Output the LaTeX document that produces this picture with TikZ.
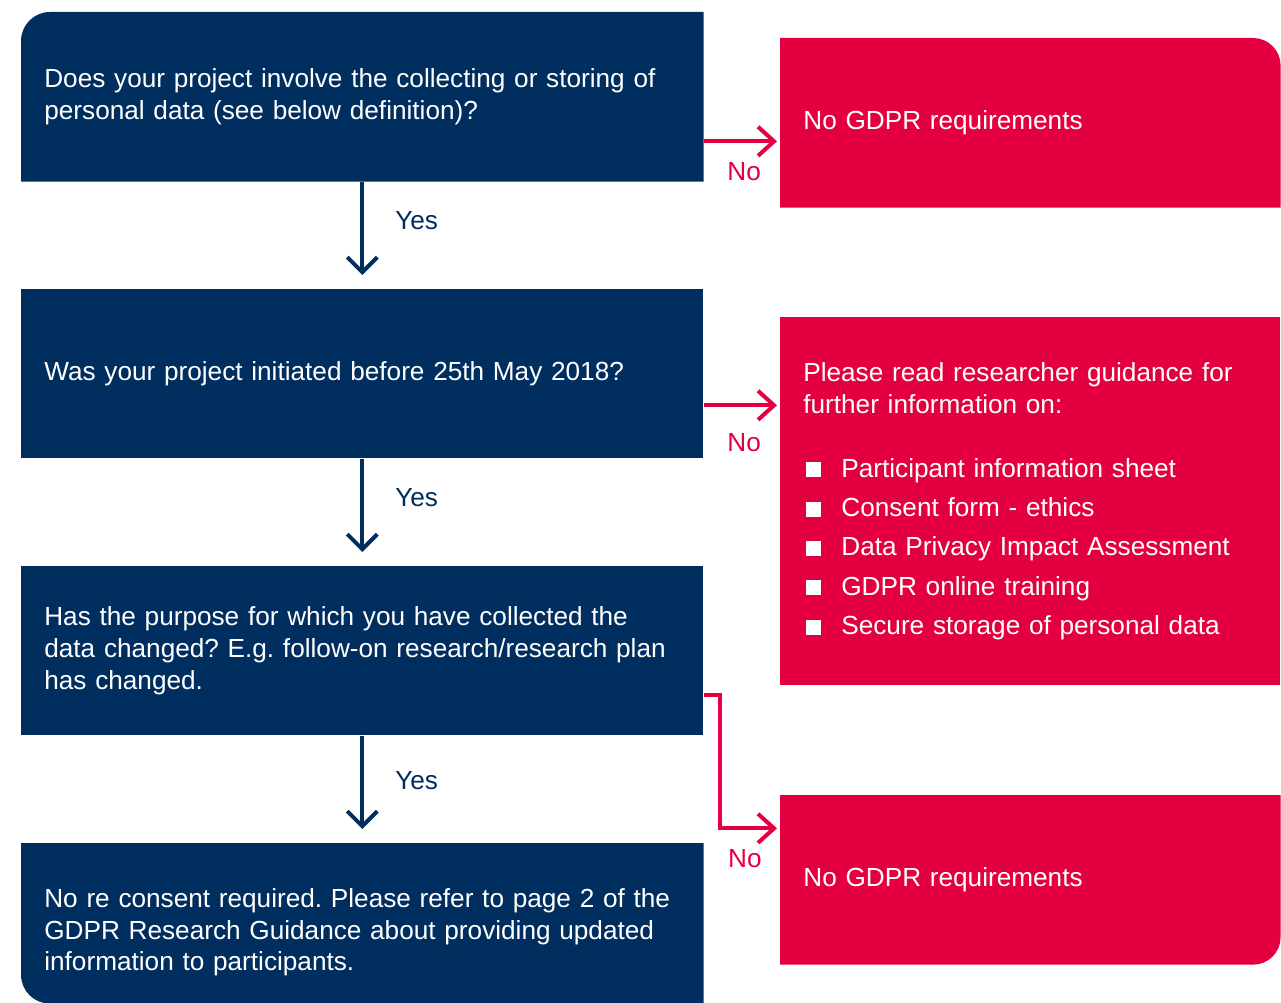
\documentclass[tikz,border=0pt]{standalone}
\usepackage{fontspec}
\setmainfont{Liberation Sans}
\usetikzlibrary{arrows.meta,backgrounds}

\definecolor{navy}{RGB}{0,46,94}
\definecolor{crimson}{RGB}{228,0,64}

% square bullet for the list in the red box
\newcommand{\sqbul}{\makebox[0.76cm][l]{\hspace{0.06cm}\rule{0.3cm}{0.3cm}}}

\tikzset{
  qbox/.style={anchor=north west, minimum width=13.64cm, minimum height=3.38cm,
    text width=12.72cm, inner xsep=0.46cm, inner ysep=0pt,
    align=left, text=white, font=\fontsize{14.9pt}{18.1pt}\selectfont},
  abox/.style={qbox, minimum width=10cm, text width=9.08cm},
  yesarrow/.style={draw=navy, line width=0.08cm, shorten >=0.28cm,
    -{Straight Barb[length=0.3cm,width=0.6cm]}},
  noarrow/.style={draw=crimson, line width=0.08cm, shorten >=0.06cm,
    -{Straight Barb[length=0.32cm,width=0.58cm]}},
  lbl/.style={inner sep=0pt, font=\fontsize{14.9pt}{18.1pt}\selectfont}
}

\begin{document}
\frenchspacing
\begin{tikzpicture}[x=0.02cm, y=-0.02cm]
  \useasboundingbox (0,0) rectangle (1281,1003);

  % questions
  \node[qbox] (q1) at (21,12) {Does your project involve the collecting or storing of\\personal data (see below definition)?};
  \node[qbox, fill=navy] (q2) at (21,289) {Was your project initiated before 25th May 2018?};
  \node[qbox, fill=navy] (q3) at (21,566) {Has the purpose for which you have collected the\\data changed? E.g. follow-on research/research plan\\has changed.};
  \node[qbox, minimum height=3.2cm] (q4) at (21,843) {\rule{0pt}{21pt}No re consent required. Please refer to page 2 of the\\GDPR Research Guidance about providing updated\\information to participants.};

  % answers
  \node[abox] (r1) at (780,38) {No GDPR requirements};
  \node[abox, fill=crimson, minimum height=7.36cm] (r2) at (780,317) {Please read researcher guidance for\\further information on:\\[18.2pt]
    \sqbul Participant information sheet\\[4.3pt]
    \sqbul Consent form - ethics\\[4.3pt]
    \sqbul Data Privacy Impact Assessment\\[4.3pt]
    \sqbul GDPR online training\\[4.3pt]
    \sqbul Secure storage of personal data};
  \node[abox] (r3) at (780,795) {No GDPR requirements};

  % boxes with one rounded corner
  \begin{scope}[on background layer]
    \fill[navy] (q1.south east) -- (q1.south west)
      [rounded corners=0.58cm] -- (q1.north west) [sharp corners] -- (q1.north east) -- cycle;
    \fill[navy] (q4.north east) -- (q4.north west)
      [rounded corners=0.58cm] -- (q4.south west) [sharp corners] -- (q4.south east) -- cycle;
    \fill[crimson] (r1.north west)
      [rounded corners=0.55cm] -- (r1.north east) [sharp corners] -- (r1.south east) -- (r1.south west) -- cycle;
    \fill[crimson] (r3.north east)
      [rounded corners=0.55cm] -- (r3.south east) [sharp corners] -- (r3.south west) -- (r3.north west) -- cycle;
  \end{scope}

  % yes path
  \foreach \from/\to/\p in {q1/q2/0.36, q2/q3/0.36, q3/q4/0.42}
    \path (\from) edge[yesarrow] node[lbl, text=navy, pos=\p, right=0.62cm] {Yes} (\to);

  % no branches
  \coordinate (n1) at ([yshift=-0.89cm]q1.east);
  \coordinate (n2) at ([yshift=-0.63cm]q2.east);
  \coordinate (n3) at ([yshift=-0.89cm]q3.east);
  \draw[noarrow] (n1) -- (n1 -| r1.west) node[lbl, text=crimson, pos=0.53, below=0.39cm] {No};
  \draw[noarrow] (n2) -- (n2 -| r2.west) node[lbl, text=crimson, pos=0.53, below=0.52cm] {No};
  \draw[noarrow] (n3) -- ++(0.32cm,0) |- ([yshift=1.03cm]r3.west)
    node[lbl, text=crimson, pos=0.71, below=0.39cm] {No};
\end{tikzpicture}
\end{document}
